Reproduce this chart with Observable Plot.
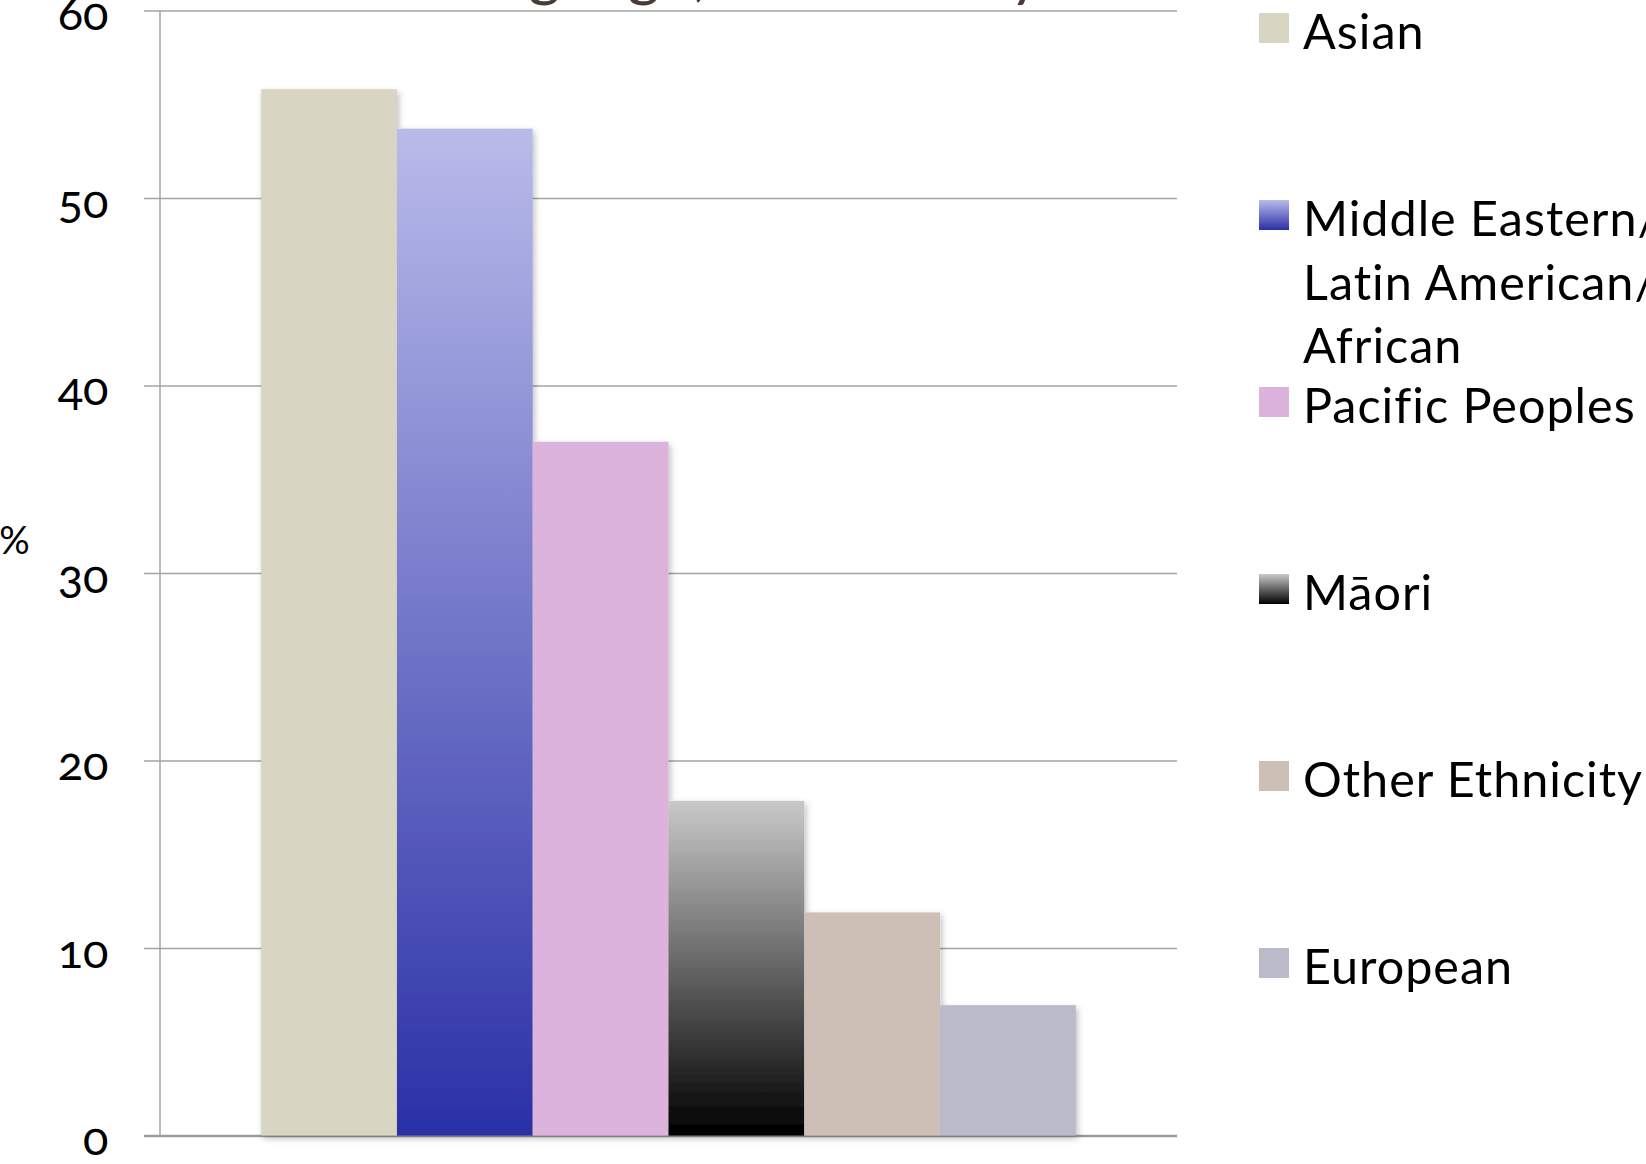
<!DOCTYPE html>
<html>
<head>
<meta charset="utf-8">
<script src="https://cdn.jsdelivr.net/npm/d3@7"></script>
<script src="https://cdn.jsdelivr.net/npm/@observablehq/plot@0.6"></script>
<style>
  html, body { margin: 0; padding: 0; background: #fff; }
  #wrap { position: relative; width: 1646px; height: 1164px; overflow: hidden; font-family: Lato, "Open Sans", sans-serif; }
  #chart { position: absolute; left: 0; top: 0; }
  #title { position: absolute; left: 0; top: 0; }
  #legend { position: absolute; left: 1259px; top: 0; width: 387px; height: 1164px; }
  .item { position: absolute; left: 0; white-space: nowrap; }
  .swatch { position: absolute; left: 0; width: 30px; height: 30px; }
  .label { position: absolute; left: 44px; font-size: 48.5px; letter-spacing: 1px; line-height: 63.5px; color: #000; }
</style>
</head>
<body>
<div id="wrap">
  <div id="chart"></div>
  <svg id="title" width="1646" height="12"></svg>
  <div id="legend"></div>
</div>
<script>
// ---- data ----
const ethnicities = ["Asian", "Middle Eastern/Latin American/African", "Pacific Peoples", "Māori", "Other Ethnicity", "European"];
const percents = [55.8, 53.7, 37.0, 17.85, 11.9, 6.95];
const yTicks = [0, 10, 20, 30, 40, 50, 60];
const titleLine = "language, all ethnicity";

// ---- styles ----
const barFills = ["#d8d5c2", "url(#gradME)", "#dcb3dc", "url(#gradMaori)", "#cdbfb6", "#bbbac8"];
const swatchFills = ["#d8d5c2", "linear-gradient(#b9bbea, #2a30a6)", "#dcb3dc", "linear-gradient(#c9c9c9, #000)", "#cdbfb6", "#bbbac8"];
const gradients = [
  {id: "gradME", top: "#b9bbea", bottom: "#2a30a6"},
  {id: "gradMaori", top: "#c9c9c9", bottom: "#000000"}
];

const data = ethnicities.map((ethnicity, i) => ({ethnicity, pct: percents[i], fill: barFills[i]}));

const axisLine = (index, scales, values, dims) => {
  const g = d3.create("svg:g");
  g.append("line")
    .attr("x1", dims.marginLeft).attr("x2", dims.marginLeft)
    .attr("y1", dims.marginTop).attr("y2", dims.height - dims.marginBottom)
    .attr("stroke", "#a3a3a3").attr("stroke-width", 1.5);
  return g.node();
};

const chart = Plot.plot({
  width: 1250,
  height: 1164,
  marginLeft: 160,
  marginRight: 73,
  marginTop: 10.5,
  marginBottom: 28.5,
  style: {background: "transparent", fontFamily: "Lato, 'Open Sans', sans-serif", overflow: "visible"},
  x: {domain: ethnicities, paddingInner: 0, paddingOuter: 0.745, round: false, axis: null},
  y: {domain: [0, 60], axis: null},
  color: {type: "identity"},
  marks: [
    Plot.ruleY(yTicks, {stroke: "#a3a3a3", strokeWidth: 1.5, insetLeft: -16}),
    Plot.ruleY([0], {stroke: "#9a9a9a", strokeWidth: 2.5, insetLeft: -16}),
    axisLine,
    Plot.barY(data, {x: "ethnicity", y: "pct", fill: "fill"}),
    Plot.text(yTicks, {y: d => d, text: d => String(d), frameAnchor: "left", textAnchor: "end", dx: -52, dy: 4, fontSize: 47, fill: "#000"}),
    Plot.text(["%"], {text: d => d, frameAnchor: "left", textAnchor: "middle", dx: -146, dy: -32, fontSize: 38, fill: "#000"})
  ]
});

// gradients + shadow
const svg = d3.select(chart.tagName.toLowerCase() === "svg" ? chart : chart.querySelector("svg"));
const defs = svg.insert("defs", ":first-child");
gradients.forEach(gr => {
  const lg = defs.append("linearGradient").attr("id", gr.id).attr("x1", 0).attr("y1", 0).attr("x2", 0).attr("y2", 1);
  lg.append("stop").attr("offset", "0%").attr("stop-color", gr.top);
  lg.append("stop").attr("offset", "100%").attr("stop-color", gr.bottom);
});
const f = defs.append("filter").attr("id", "shadow").attr("x", "-10%").attr("y", "-10%").attr("width", "130%").attr("height", "130%");
f.append("feDropShadow").attr("dx", 2).attr("dy", 3).attr("stdDeviation", 3).attr("flood-color", "#000").attr("flood-opacity", 0.25);
svg.selectAll("g[aria-label='bar']").attr("filter", "url(#shadow)");
svg.selectAll("text").style("font-variant-numeric", "oldstyle-nums");

document.getElementById("chart").appendChild(chart);

// clipped title (only descenders visible)
d3.select("#title").append("text")
  .attr("x", 447).attr("y", -6)
  .attr("font-family", "Lato, 'Open Sans', sans-serif")
  .attr("font-size", 63)
  .attr("fill", "#4b3b36")
  .text(titleLine);

// legend
const legend = d3.select("#legend");
ethnicities.forEach((name, i) => {
  const center = 28 + i * 187;
  const item = legend.append("div").attr("class", "item").style("top", (center - 15) + "px");
  item.append("div").attr("class", "swatch").style("top", "0px").style("background", swatchFills[i]);
  item.append("div").attr("class", "label").style("top", "-14px")
    .html(name.split(/(?<=\/)/).join("<br>"));
});
</script>
</body>
</html>
